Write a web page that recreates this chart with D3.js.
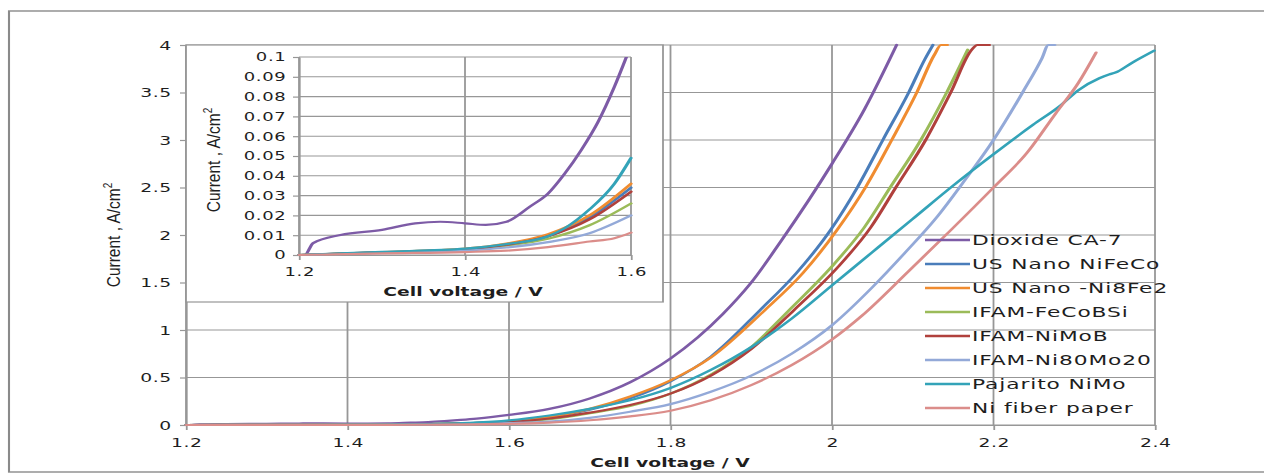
<!DOCTYPE html>
<html>
<head>
<meta charset="utf-8">
<script src="https://cdn.jsdelivr.net/npm/d3@7"></script>
<style>
  body { margin: 0; background: #fff; }
  svg { display: block; }
</style>
</head>
<body>
<script>
// series: [cell voltage V, current A/cm2]
const dioxide = [[1.2,0],[1.207,0],[1.217,0.006],[1.25,0.0101],[1.3,0.0127],[1.34,0.016],[1.37,0.0168],[1.4,0.016],[1.425,0.0152],[1.45,0.0168],[1.478,0.0244],[1.5,0.031],[1.52,0.041],[1.54,0.053],[1.56,0.067],[1.58,0.085],[1.6,0.106],[1.65,0.17],[1.7,0.28],[1.75,0.45],[1.8,0.7],[1.865,1.17],[1.9,1.5],[1.938,1.95],[2.0,2.75],[2.04,3.32],[2.08,4.0]];
const niFeCo = [[1.2,0],[1.3,0.0015],[1.4,0.003],[1.45,0.0052],[1.5,0.0095],[1.55,0.019],[1.6,0.034],[1.65,0.08],[1.7,0.16],[1.75,0.28],[1.8,0.46],[1.85,0.72],[1.911,1.21],[1.956,1.6],[1.998,2.05],[2.032,2.51],[2.063,3.0],[2.095,3.5],[2.115,3.85],[2.125,4.0]];
const ni8Fe2 = [[1.2,0],[1.3,0.0015],[1.4,0.0032],[1.45,0.0058],[1.5,0.0105],[1.55,0.02],[1.6,0.036],[1.65,0.083],[1.7,0.17],[1.75,0.3],[1.8,0.47],[1.85,0.71],[1.917,1.21],[1.964,1.6],[2.006,2.05],[2.042,2.51],[2.074,3.0],[2.105,3.5],[2.127,3.9],[2.135,4.0],[2.143,4.0]];
const feCoBSi = [[1.2,0],[1.3,0.0012],[1.4,0.0026],[1.45,0.0047],[1.5,0.0082],[1.55,0.015],[1.6,0.026],[1.65,0.062],[1.7,0.125],[1.75,0.2],[1.8,0.33],[1.85,0.53],[1.9,0.82],[1.947,1.21],[2.0,1.67],[2.04,2.08],[2.072,2.5],[2.11,3.0],[2.142,3.5],[2.168,3.95]];
const niMoB = [[1.2,0],[1.3,0.0013],[1.4,0.0028],[1.45,0.0052],[1.5,0.0095],[1.55,0.018],[1.6,0.032],[1.65,0.068],[1.7,0.13],[1.75,0.21],[1.8,0.33],[1.85,0.52],[1.9,0.8],[1.953,1.21],[2.006,1.65],[2.048,2.08],[2.079,2.5],[2.116,3.0],[2.147,3.5],[2.173,3.95],[2.18,4.0],[2.195,4.0]];
const ni80Mo20 = [[1.2,0],[1.3,0.001],[1.4,0.0022],[1.45,0.0038],[1.5,0.0065],[1.55,0.011],[1.6,0.02],[1.65,0.035],[1.7,0.075],[1.75,0.14],[1.8,0.22],[1.85,0.35],[1.9,0.52],[1.95,0.75],[2.0,1.05],[2.05,1.45],[2.089,1.8],[2.131,2.2],[2.163,2.56],[2.2,3.0],[2.236,3.5],[2.26,3.86],[2.268,4.0],[2.276,4.0]];
const pajarito = [[1.2,0],[1.3,0.0016],[1.4,0.0032],[1.45,0.0055],[1.5,0.0095],[1.52,0.0135],[1.55,0.023],[1.58,0.036],[1.6,0.049],[1.65,0.1],[1.7,0.17],[1.75,0.26],[1.8,0.39],[1.85,0.58],[1.9,0.82],[1.95,1.12],[2.0,1.47],[2.05,1.82],[2.1,2.17],[2.15,2.52],[2.2,2.85],[2.249,3.16],[2.281,3.35],[2.306,3.53],[2.331,3.65],[2.343,3.69],[2.351,3.71],[2.371,3.81],[2.399,3.94]];
const niFiber = [[1.2,0],[1.3,0.0008],[1.4,0.0015],[1.45,0.0022],[1.5,0.004],[1.55,0.0068],[1.58,0.0085],[1.6,0.0113],[1.65,0.025],[1.7,0.05],[1.75,0.09],[1.8,0.15],[1.85,0.26],[1.9,0.42],[1.95,0.63],[2.0,0.9],[2.037,1.15],[2.095,1.62],[2.147,2.05],[2.2,2.5],[2.241,2.86],[2.277,3.28],[2.305,3.6],[2.327,3.92]];

const names = ['Dioxide CA-7','US Nano NiFeCo','US Nano -Ni8Fe2','IFAM-FeCoBSi','IFAM-NiMoB','IFAM-Ni80Mo20','Pajarito NiMo','Ni fiber paper'];
const colors = ['#7d5ba6','#4a7dba','#f08c30','#9bbb59','#b0403c','#93a9d8','#33a3b8','#db8d8a'];
const seriesData = [dioxide, niFeCo, ni8Fe2, feCoBSi, niMoB, ni80Mo20, pajarito, niFiber];

// ticks
const xTicks = [1.2,1.4,1.6,1.8,2.0,2.2,2.4];
const xLabels = ['1.2','1.4','1.6','1.8','2','2.2','2.4'];
const yTicks = [0,0.5,1,1.5,2,2.5,3,3.5,4];
const yLabels = ['0','0.5','1','1.5','2','2.5','3','3.5','4'];
const inXTicks = [1.2,1.4,1.6];
const inXLabels = ['1.2','1.4','1.6'];
const inYTicks = [0,0.01,0.02,0.03,0.04,0.05,0.06,0.07,0.08,0.09,0.1];
const inYLabels = ['0','0.01','0.02','0.03','0.04','0.05','0.06','0.07','0.08','0.09','0.1'];

// the picture is stretched sideways, so draw in a narrower viewBox
const S = 1.5;
const W = 1264, H = 474;
const px = v => v / S;

const svg = d3.select('body').append('svg')
  .attr('width', W)
  .attr('height', H)
  .attr('viewBox', `0 0 ${W / S} ${H}`)
  .attr('preserveAspectRatio', 'none');

const gridCol = '#979797';
const textCol = '#1e1e1e';
const tickFont = 'DejaVu Sans, Verdana, sans-serif';

// outer frame
svg.append('rect')
  .attr('x', px(9)).attr('y', 11)
  .attr('width', px(1262)).attr('height', 461)
  .attr('fill', 'none').attr('stroke', '#8a8a8a').attr('stroke-width', 1.4);

//scales
const x = d3.scaleLinear().domain([1.2, 2.4]).range([px(186), px(1155)]);
const y = d3.scaleLinear().domain([0, 4]).range([425, 45]);

const main = svg.append('g');

//grid
main.selectAll('.hgrid').data(yTicks).enter().append('line')
  .attr('x1', x(1.2)).attr('x2', x(2.4))
  .attr('y1', d => y(d)).attr('y2', d => y(d))
  .attr('stroke', gridCol).attr('stroke-width', 1.1);
main.selectAll('.vgrid').data(xTicks).enter().append('line')
  .attr('x1', d => x(d)).attr('x2', d => x(d))
  .attr('y1', y(0)).attr('y2', y(4))
  .attr('stroke', gridCol).attr('stroke-width', 1.2);

//axes
const styleAxis = (size) => (g) => {
  g.select('.domain').attr('stroke', gridCol).attr('stroke-width', 1.2);
  g.selectAll('.tick line').attr('stroke', gridCol).attr('stroke-width', 1.2);
  g.selectAll('text').attr('fill', textCol)
    .style('font-family', tickFont).style('font-size', size + 'px')
    .style('letter-spacing', '0.4px');
};
const xAxis = d3.axisBottom(x).tickValues(xTicks).tickSize(5).tickSizeOuter(0).tickPadding(8)
  .tickFormat((d, i) => xLabels[i]);
const yAxis = d3.axisLeft(y).tickValues(yTicks).tickSize(4).tickSizeOuter(0).tickPadding(5.5)
  .tickFormat((d, i) => yLabels[i]);
main.append('g').attr('transform', `translate(0,${y(0)})`).call(xAxis).call(styleAxis(12.5));
main.append('g').attr('transform', `translate(${x(1.2)},0)`).call(yAxis).call(styleAxis(12.5));

//lines
const line = d3.line()
  .x(d => x(d[0]))
  .y(d => y(d[1]))
  .curve(d3.curveMonotoneX);

main.selectAll('.series').data(seriesData).enter().append('path')
  .attr('d', line)
  .attr('fill', 'none')
  .attr('stroke', (d, i) => colors[i])
  .attr('stroke-width', 2.2)
  .attr('stroke-linejoin', 'round')
  .attr('stroke-linecap', 'round');

//titles
main.append('text')
  .attr('x', px(670)).attr('y', 467)
  .attr('text-anchor', 'middle')
  .attr('fill', textCol)
  .style('font-family', tickFont).style('font-size', '12.5px').style('font-weight', 'bold')
  .text('Cell voltage / V');

const yTitle = (g, cx, cy) => {
  const t = g.append('text')
    .attr('transform', `translate(${px(cx)},${cy}) scale(0.8,1) rotate(-90)`)
    .attr('text-anchor', 'middle')
    .attr('dy', '0.35em')
    .attr('fill', textCol)
    .style('font-family', '"Liberation Sans Narrow", "Arial Narrow", sans-serif')
    .style('font-size', '15.5px');
  t.append('tspan').text('Current , A/cm');
  t.append('tspan').attr('dy', -6).style('font-size', '10px').text('2');
};
yTitle(main, 113, 235);

//legend
const legend = svg.append('g');
names.forEach((n, i) => {
  const ly = 240 + i * 24;
  legend.append('line')
    .attr('x1', px(925)).attr('x2', px(970))
    .attr('y1', ly).attr('y2', ly)
    .attr('stroke', colors[i]).attr('stroke-width', 2.6);
  legend.append('text')
    .attr('x', px(972)).attr('y', ly)
    .attr('dy', '0.36em')
    .attr('fill', textCol)
    .style('font-family', tickFont).style('font-size', '14.5px')
    .style('letter-spacing', '0.6px')
    .text(n);
});

//inset
const inset = svg.append('g');
inset.append('rect')
  .attr('x', px(186)).attr('y', 45)
  .attr('width', px(663 - 186)).attr('height', 302 - 45)
  .attr('fill', '#fff').attr('stroke', gridCol).attr('stroke-width', 1.2);

const ix = d3.scaleLinear().domain([1.2, 1.6]).range([px(299), px(631)]);
const iy = d3.scaleLinear().domain([0, 0.1]).range([255, 57]);

inset.selectAll('.hgrid').data(inYTicks).enter().append('line')
  .attr('x1', ix(1.2)).attr('x2', ix(1.6))
  .attr('y1', d => iy(d)).attr('y2', d => iy(d))
  .attr('stroke', gridCol).attr('stroke-width', 1.1);
inset.selectAll('.vgrid').data(inXTicks).enter().append('line')
  .attr('x1', d => ix(d)).attr('x2', d => ix(d))
  .attr('y1', iy(0)).attr('y2', iy(0.1))
  .attr('stroke', gridCol).attr('stroke-width', 1.2);

const ixAxis = d3.axisBottom(ix).tickValues(inXTicks).tickSize(5).tickSizeOuter(0).tickPadding(7)
  .tickFormat((d, i) => inXLabels[i]);
const iyAxis = d3.axisLeft(iy).tickValues(inYTicks).tickSize(4).tickSizeOuter(0).tickPadding(4.5)
  .tickFormat((d, i) => inYLabels[i]);
inset.append('g').attr('transform', `translate(0,${iy(0)})`).call(ixAxis).call(styleAxis(12));
inset.append('g').attr('transform', `translate(${ix(1.2)},0)`).call(iyAxis).call(styleAxis(12));

svg.append('clipPath').attr('id', 'inclip')
  .append('rect')
  .attr('x', ix(1.2) - 2).attr('y', iy(0.1))
  .attr('width', ix(1.6) - ix(1.2) + 4).attr('height', iy(0) - iy(0.1) + 3);

const iline = d3.line()
  .x(d => ix(d[0]))
  .y(d => iy(d[1]))
  .curve(d3.curveMonotoneX);

inset.append('g').attr('clip-path', 'url(#inclip)')
  .selectAll('path').data(seriesData.map(s => s.filter(d => d[0] <= 1.6))).enter().append('path')
  .attr('d', iline)
  .attr('fill', 'none')
  .attr('stroke', (d, i) => colors[i])
  .attr('stroke-width', 2.2)
  .attr('stroke-linejoin', 'round')
  .attr('stroke-linecap', 'round');

inset.append('text')
  .attr('x', px(463)).attr('y', 296)
  .attr('text-anchor', 'middle')
  .attr('fill', textCol)
  .style('font-family', tickFont).style('font-size', '12.5px').style('font-weight', 'bold')
  .text('Cell voltage / V');
yTitle(inset, 213, 160);
</script>
</body>
</html>
